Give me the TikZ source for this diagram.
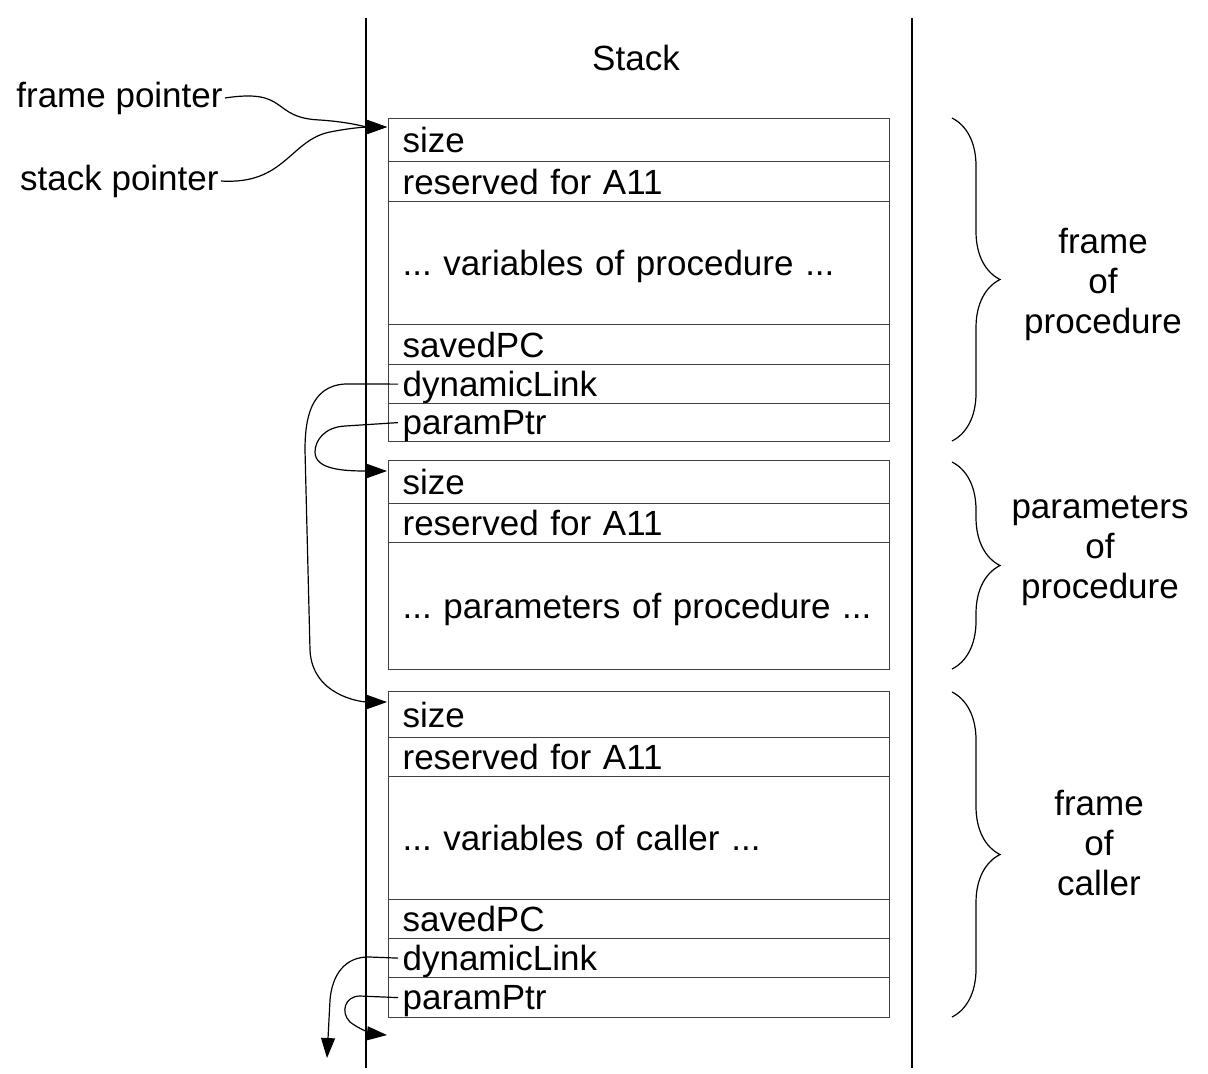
\documentclass[tikz,border=0pt]{standalone}
\usepackage{fontspec}
\setmainfont{Liberation Sans}
\usetikzlibrary{calc,arrows.meta,decorations.pathreplacing}
\frenchspacing

\tikzset{
	cell/.style={draw=black!75, line width=0.6pt, anchor=north west, text width=236.5pt, text depth=0pt, inner xsep=7pt, inner ysep=0pt, align=left},
	ptr/.style={line width=0.6pt, -{Triangle[length=10pt,width=7pt]}},
	frm/.style={line width=0.6pt, decorate, decoration={brace, amplitude=24pt}},
}

\begin{document}
\begin{tikzpicture}[x=0.5pt, y=-0.5pt, font=\fontsize{17.5}{20}\selectfont]
				\useasboundingbox (0,0) rectangle (1208,1073);
				\draw[line width=0.6pt] (366,18) -- (366,1068);
				\draw[line width=0.6pt] (912,18) -- (912,1068);
				\node (stack) at (636,58) {Stack};
				\node[cell, minimum height=21.5pt] (f1size) at (388,118) {size};
				\node[cell, minimum height=20pt] (f1res) at (388,161) {reserved for A11};
				\node[cell, minimum height=61.5pt] (f1var) at (388,201) {... variables of procedure ...};
				\node[cell, minimum height=20pt] (f1pc) at (388,324) {savedPC};
				\node[cell, minimum height=19.5pt] (f1dyn) at (388,364) {dynamicLink};
				\node[cell, minimum height=19pt] (f1par) at (388,403) {paramPtr};
				\node[cell, minimum height=21.5pt] (p2size) at (388,460) {size};
				\node[cell, minimum height=19.5pt] (p2res) at (388,503) {reserved for A11};
				\node[cell, minimum height=63.5pt] (p2par) at (388,542) {... parameters of procedure ...};
				\node[cell, minimum height=23pt] (f3size) at (388,691) {size};
				\node[cell, minimum height=19.5pt] (f3res) at (388,737) {reserved for A11};
				\node[cell, minimum height=61.5pt] (f3var) at (388,776) {... variables of caller ...};
				\node[cell, minimum height=19.5pt] (f3pc) at (388,899) {savedPC};
				\node[cell, minimum height=19.5pt] (f3dyn) at (388,938) {dynamicLink};
				\node[cell, minimum height=20pt] (f3par) at (388,977) {paramPtr};
				\node[anchor=east, inner xsep=1pt] (fp) at (225,98) {frame pointer};
				\node[anchor=east, inner xsep=1pt] (sp) at (221,181) {stack pointer};
				\coordinate (top) at (387,127);
				\coordinate (dl1) at (387,702);
				\coordinate (pp1) at (387,471);
				\coordinate (dl3) at (327,1058);
				\coordinate (pp3) at (387,1035);
				\draw[ptr] (fp.east) .. controls (290,88) and (270,118) .. (320,120) .. controls (350,122) and (365,127) .. (top);
				\draw[ptr] (sp.east) .. controls (285,185) and (290,140) .. (330,132) .. controls (350,128) and (365,127) .. (top);
				\draw[ptr] ($(f1dyn.west)+(10,0)$) -- (345,384) .. controls (310,386) and (305,420) .. (305,450) -- (310,650) .. controls (312,695) and (360,702) .. (dl1);
				\draw[ptr] ($(f1par.west)+(10,0)$) -- (345,426) .. controls (325,427) and (315,440) .. (315,452) .. controls (315,470) and (345,471) .. (pp1);
				\draw[ptr] ($(f3dyn.west)+(10,0)$) -- (370,957) .. controls (345,956) and (332,975) .. (330,1000) -- (dl3);
				\draw[ptr] ($(f3par.west)+(10,0)$) -- (360,996) .. controls (345,996) and (340,1012) .. (350,1022) .. controls (360,1030) and (375,1034) .. (pp3);
				\draw[frm] (952,118) -- (952,441);
				\draw[frm] (952,462) -- (952,669);
				\draw[frm] (952,692) -- (952,1017);
				\node[align=center] (lab1) at (1103,284) {frame\\of\\procedure};
				\node[align=center] (lab2) at (1100,551) {parameters\\of\\procedure};
				\node[align=center] (lab3) at (1099,843) {frame\\of\\caller};
			\end{tikzpicture}
\end{document}
